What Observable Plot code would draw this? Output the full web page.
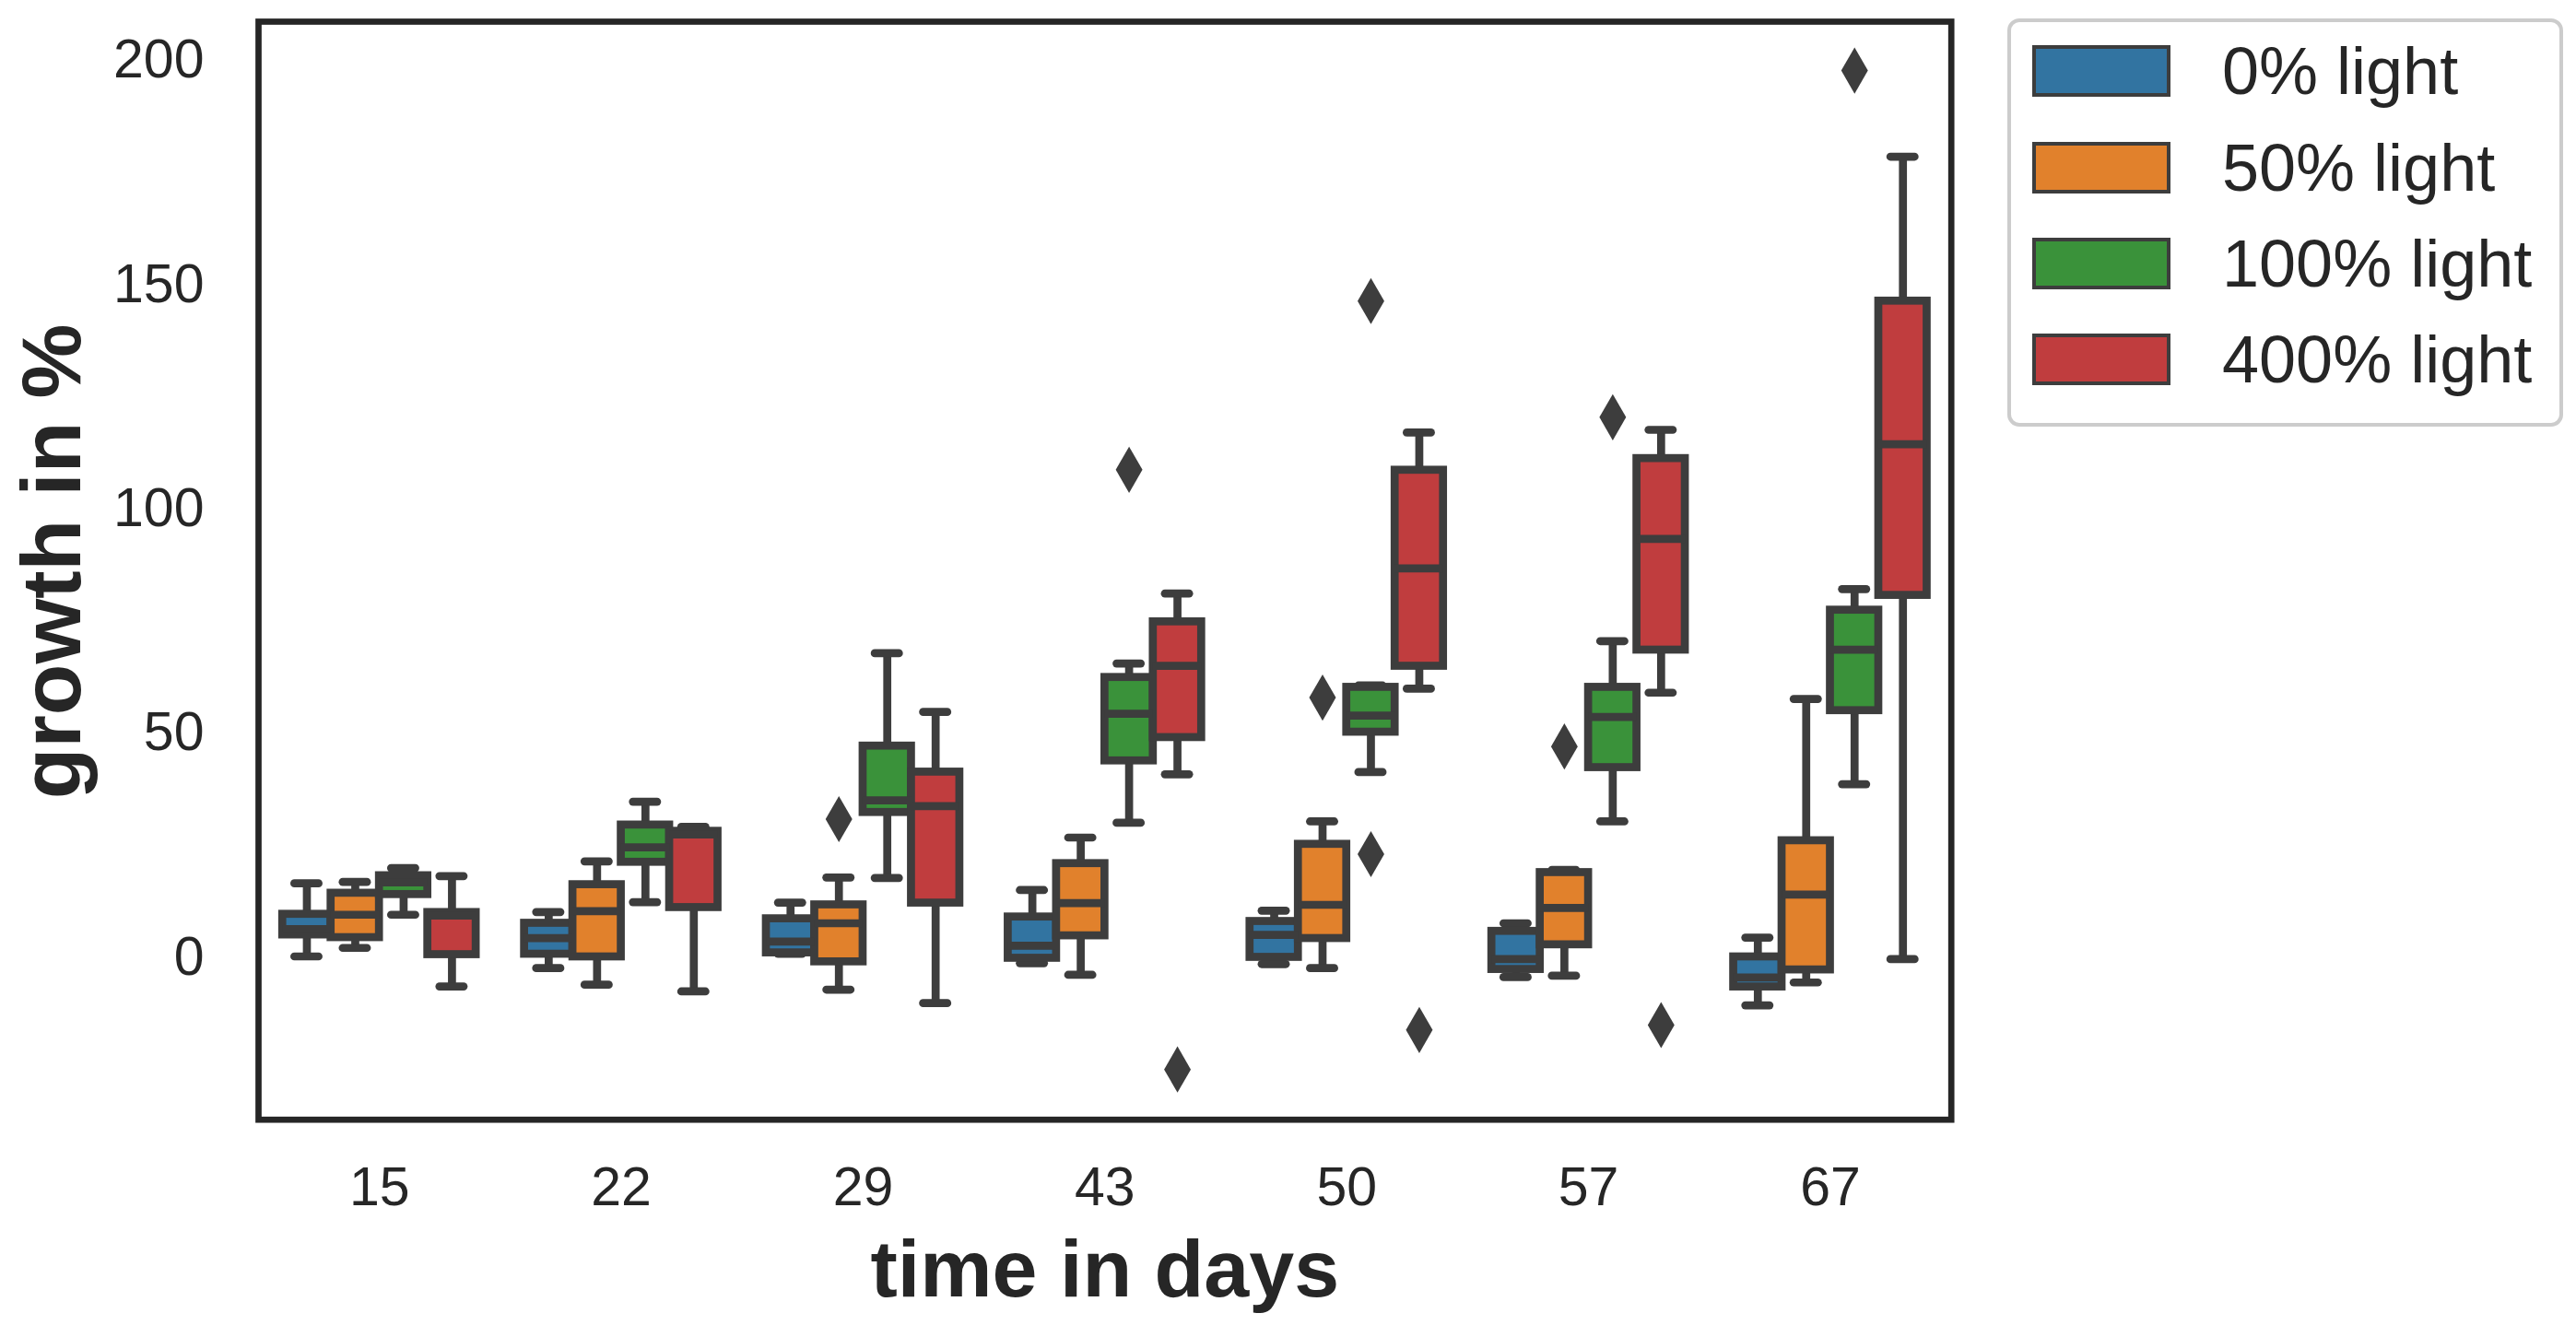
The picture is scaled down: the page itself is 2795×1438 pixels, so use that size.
<!DOCTYPE html>
<html>
<head>
<meta charset="utf-8">
<script src="https://cdn.jsdelivr.net/npm/d3@7"></script>
<script src="https://cdn.jsdelivr.net/npm/@observablehq/plot@0.6"></script>
<style>
  html, body { margin: 0; padding: 0; background: #ffffff; }
  #wrap { position: relative; width: 2795px; height: 1438px; font-family: "Liberation Sans", Arial, sans-serif; }
  #chart { position: absolute; left: 0; top: 0; }
  #legend {
    position: absolute; left: 2178px; top: 20px; width: 603px; height: 443px;
    box-sizing: border-box; border: 4.7px solid #cccccc; border-radius: 13px; background: #ffffff;
  }
  .row { position: absolute; left: 23px; height: 56px; display: flex; align-items: center; }
  .patch { width: 150px; height: 56px; box-sizing: border-box; border: 4.5px solid #3d3d3d; }
  .lab { margin-left: 56px; font-size: 72px; line-height: 1; color: #262626; white-space: nowrap; }
</style>
</head>
<body>
<div id="wrap">
  <div id="chart"></div>
  <div id="legend"></div>
</div>
<script>
// Sampling days and light treatments
const days = [15, 22, 29, 43, 50, 57, 67];
const lights = ["0% light", "50% light", "100% light", "400% light"];
const colors = ["#3274a1", "#e1812c", "#3a923a", "#c03d3e"];

// Box statistics: one row per light level, one entry per day
const whiskerLow = [
  [0.2, -2.4, 0.8, -1.3, -1.5, -4.4, -10.7],
  [2.1, -6.1, -7.2, -3.9, -2.4, -4.1, -5.6],
  [9.5, 12.3, 17.7, 30.0, 41.3, 30.3, 38.6],
  [-6.5, -7.6, -10.2, 40.8, 59.9, 59.0, -0.4]
];
const quartile1 = [
  [5.0, 0.7, 1.0, -0.2, 0.0, -2.7, -6.6],
  [4.4, 0.1, -1.0, 4.8, 4.2, 2.8, -2.8],
  [14.0, 21.2, 32.3, 43.8, 50.2, 42.3, 55.0],
  [0.6, 11.1, 12.1, 49.0, 64.9, 68.5, 80.7]
];
const medians = [
  [6.3, 4.3, 3.5, 2.6, 5.0, -0.4, -4.5],
  [9.5, 10.3, 7.6, 12.1, 11.7, 11.0, 14.0],
  [16.7, 24.5, 35.0, 54.3, 53.9, 53.6, 68.6],
  [9.3, 27.4, 33.7, 65.0, 86.7, 93.3, 114.4]
];
const quartile3 = [
  [9.6, 7.6, 8.6, 9.0, 8.0, 5.8, 0.1],
  [14.3, 16.2, 11.7, 20.9, 25.2, 18.9, 26.0],
  [18.2, 29.5, 47.1, 62.4, 60.2, 60.2, 77.4],
  [10.0, 28.1, 41.3, 74.8, 108.6, 111.2, 146.3]
];
const whiskerHigh = [
  [16.5, 10.1, 12.2, 15.0, 10.4, 7.6, 4.4],
  [16.8, 21.4, 17.8, 26.7, 30.3, 19.5, 57.6],
  [19.9, 34.7, 67.8, 65.5, 60.6, 70.5, 82.1],
  [18.1, 29.1, 54.7, 81.1, 117.0, 117.6, 178.5]
];

// Points beyond the whiskers
const outlierDay = [29, 43, 43, 50, 50, 50, 50, 57, 57, 57, 67];
const outlierLight = ["50% light", "100% light", "400% light", "50% light", "100% light", "100% light", "400% light", "50% light", "100% light", "400% light", "100% light"];
const outlierValue = [30.8, 108.7, -25.0, 57.9, 146.3, 23.0, -16.2, 47.0, 120.4, -15.1, 197.7];

// Hue dodging within each day (box width 0.2 of a category)
const dodge = [-0.3, -0.1, 0.1, 0.3];
const half = 0.1;
const cap = 0.05;

const boxes = days.flatMap((day, i) => lights.map((light, j) => ({
  day, light, pos: i + dodge[j],
  lo: whiskerLow[j][i], q1: quartile1[j][i], med: medians[j][i],
  q3: quartile3[j][i], hi: whiskerHigh[j][i]
})));

const outliers = outlierValue.map((v, k) => ({
  value: v, light: outlierLight[k],
  pos: days.indexOf(outlierDay[k]) + dodge[lights.indexOf(outlierLight[k])]
}));

const line = "#3d3d3d";
const lw = 8.7;

const chart = Plot.plot({
  width: 2130,
  height: 1438,
  marginLeft: 280,
  marginRight: 13.3,
  marginTop: 23,
  marginBottom: 223.3,
  style: {background: "#ffffff", color: "#262626", fontFamily: "'Liberation Sans', Arial, sans-serif", fontSize: "59px"},
  x: {type: "linear", domain: [-0.5, 6.5], axis: null},
  y: {domain: [-36.2, 208.6], axis: null},
  color: {domain: lights, range: colors},
  marks: [
    Plot.ruleX(boxes, {x: "pos", y1: "lo", y2: "hi", stroke: line, strokeWidth: lw}),
    Plot.ruleY(boxes, {y: "lo", x1: d => d.pos - cap, x2: d => d.pos + cap, stroke: line, strokeWidth: lw, strokeLinecap: "round"}),
    Plot.ruleY(boxes, {y: "hi", x1: d => d.pos - cap, x2: d => d.pos + cap, stroke: line, strokeWidth: lw, strokeLinecap: "round"}),
    Plot.rect(boxes, {x1: d => d.pos - half, x2: d => d.pos + half, y1: "q1", y2: "q3", fill: "light", stroke: line, strokeWidth: lw}),
    Plot.ruleY(boxes, {y: "med", x1: d => d.pos - half, x2: d => d.pos + half, stroke: line, strokeWidth: lw}),
    Plot.dot(outliers, {x: "pos", y: "value", symbol: "diamond", r: 15.2, fill: line}),
    Plot.axisX({ticks: d3.range(days.length), tickFormat: i => days[i], tickSize: 0, tickPadding: 51, fontSize: 59, label: null}),
    Plot.axisY({ticks: [0, 50, 100, 150, 200], tickSize: 0, tickPadding: 59, fontSize: 59, label: null}),
    Plot.text(["time in days"], {text: d => d, frameAnchor: "bottom", textAnchor: "middle", lineAnchor: "bottom", dy: 192, fontSize: 88, fontWeight: "bold", fill: "#262626"}),
    Plot.text(["growth in %"], {text: d => d, frameAnchor: "left", textAnchor: "middle", lineAnchor: "bottom", rotate: -90, dx: -193.3, dy: -10, fontSize: 91, fontWeight: "bold", fill: "#262626"}),
    Plot.frame({stroke: "#262626", strokeWidth: 6.7})
  ]
});
document.getElementById("chart").appendChild(chart);

// Legend for the light treatments
const legend = d3.select("#legend");
lights.forEach((name, j) => {
  const row = legend.append("div").attr("class", "row").style("top", (25.3 + j * 104.3) + "px");
  row.append("div").attr("class", "patch").style("background", colors[j]);
  row.append("div").attr("class", "lab").text(name);
});
</script>
</body>
</html>
